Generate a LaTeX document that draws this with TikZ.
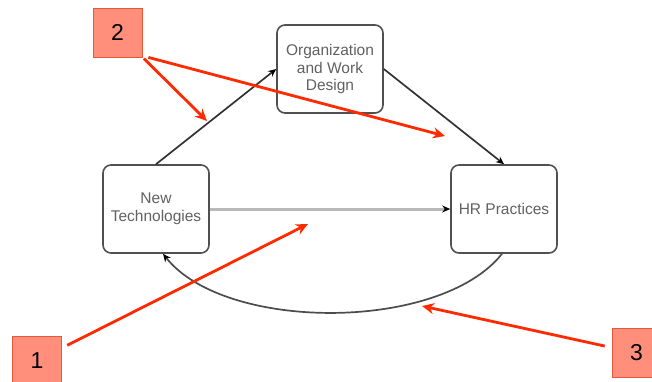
\documentclass[tikz,border=0pt]{standalone}
\usepackage{fontspec}
\setsansfont{Liberation Sans}
\usepackage{tikz}
\usetikzlibrary{arrows,arrows.meta,positioning,calc}
\definecolor{salmon}{RGB}{255,142,122}
\definecolor{callred}{RGB}{255,42,0}
\definecolor{tagedge}{RGB}{235,85,60}
\definecolor{boxgray}{RGB}{80,80,80}
\begin{document}
\begin{tikzpicture}[->,>=stealth',x=1pt,y=1pt,semithick]
  \tikzstyle{block}=[draw=boxgray,line width=1.6pt,rounded corners=8pt,fill=white,text=black!62,align=center,
                     font=\sffamily\fontsize{15.5}{17.5}\selectfont,minimum width=106pt,minimum height=88pt,inner sep=0pt]
  \tikzstyle{tag}=[draw=tagedge,line width=0.8pt,fill=salmon,minimum size=49pt,inner sep=0pt,
                   font=\sffamily\fontsize{23}{24}\selectfont]
  \tikzstyle{callout}=[callred,line width=2.8pt,-{Stealth[length=12pt,width=11pt]}]
  \tikzstyle{link}=[black!80,line width=1.7pt,-{Stealth[black,length=8pt,width=7pt]}]

  \useasboundingbox (0,0) rectangle (652,381);

  \node[block]	(T) at (156,172)	{New\\Technologies};
  \node[block]	(O) at (330,312)	{Organization\\and Work\\Design};
  \node[block]	(H) at (504,172)	{HR Practices};

  \path (T.north) edge [link]	(O.west);
  \path (O.east)  edge [link]	(H.north);
  \path (T.east)  edge [link,gray!55,line width=3pt]	(H.west);
  \draw[link,black!70] ([xshift=-2pt]H.south) .. controls (440,49) and (225,49) .. ([xshift=7pt]T.south);

  % callouts
  \node[tag]	(L2) at (117.5,348.5)	{2};
  \node[tag]	(L1) at (37,20.5)	{1};
  \node[tag]	(L3) at (636.5,28)	{3};

  \coordinate (p2a) at (207,260);
  \coordinate (p2b) at (445,245);
  \coordinate (p1)  at (308,157);
  \coordinate (p3)  at (422,75);

  \path[callout] (L2) edge [shorten <=2pt]	(p2a);
  \path[callout] ([xshift=6pt]L2.south east) edge	(p2b);
  \path[callout] (L1) edge [shorten <=6pt]	(p1);
  \path[callout] (L3) edge [shorten <=7pt]	(p3);

\end{tikzpicture}
\end{document}
